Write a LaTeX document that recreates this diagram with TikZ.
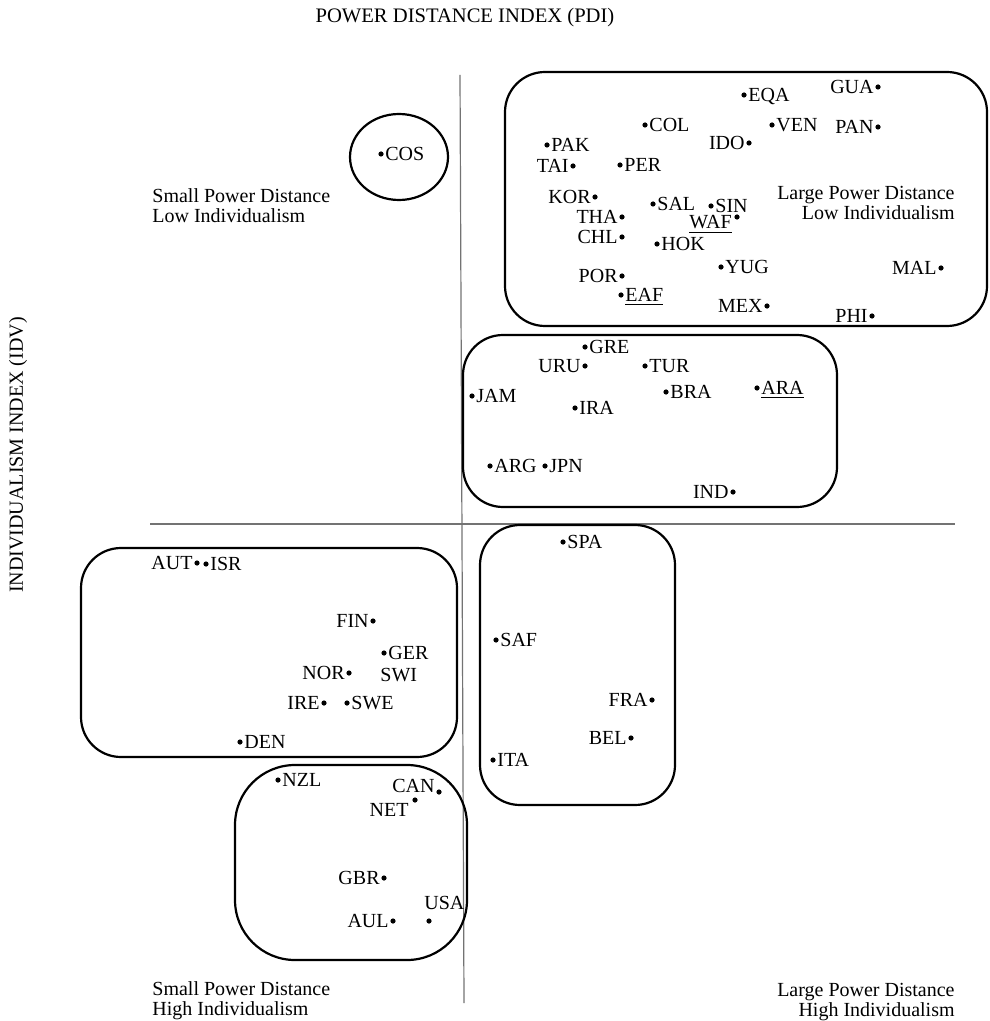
\documentclass[tikz,border=0pt]{standalone}
\usepackage{fontspec}
\setmainfont{Liberation Serif}
\begin{document}
\begin{tikzpicture}[x=0.5pt,y=-0.5pt,font=\fontsize{10}{10}\selectfont,
  lr/.style={anchor=base west,inner sep=0pt,xshift=2pt,yshift=-3.2pt},
  ll/.style={anchor=base east,inner sep=0pt,xshift=-2pt,yshift=-3.2pt},
  grp/.style={draw,line width=1.1pt,rounded corners=20pt},
  axis/.style={draw=black!55,line width=0.6pt}]
\useasboundingbox (0,0) rectangle (989,1021);
% axes
\draw[axis] (460,75) -- (464,1003);
\draw[axis] (150,524) -- (955,524);
\node (pdi) at (465,18) {\fontsize{10.3}{12}\selectfont POWER DISTANCE INDEX (PDI)};
\node[rotate=90] (idv) at (18,455) {\fontsize{10}{12}\selectfont INDIVIDUALISM INDEX (IDV)};
% quadrant captions
\node[anchor=north west,inner sep=0pt,align=left] (spli) at (152,188) {Small Power Distance\\Low Individualism};
\node[anchor=north east,inner sep=0pt,align=right] (lpli) at (955,186) {Large Power Distance\\Low Individualism};
\node[anchor=north west,inner sep=0pt,align=left] (sphi) at (152,981) {Small Power Distance\\High Individualism};
\node[anchor=north east,inner sep=0pt,align=right] (lphi) at (955,983) {Large Power Distance\\High Individualism};
% clusters
\draw[line width=1.1pt] (399,157) ellipse [x radius=24.5pt,y radius=21.5pt];
\draw[grp] (505,72) rectangle (987,326);
\draw[grp] (463,335) rectangle (837,507);
\draw[grp] (81,548) rectangle (457,757);
\draw[grp,rounded corners=30pt] (235,765) rectangle (467,960);
\draw[grp] (480,525) rectangle (675,805);
% small PDI, low IDV
\fill (381,154) circle (1.3pt) node[lr] (cos) {COS};
% large PDI, low IDV
\fill (744,95) circle (1.3pt) node[lr] (eqa) {EQA};
\fill (878,87) circle (1.3pt) node[ll] (gua) {GUA};
\fill (645,125) circle (1.3pt) node[lr] (col) {COL};
\fill (772,125) circle (1.3pt) node[lr] (ven) {VEN};
\fill (878,127) circle (1.3pt) node[ll] (pan) {PAN};
\fill (749,143) circle (1.3pt) node[ll] (ido) {IDO};
\fill (547,145) circle (1.3pt) node[lr] (pak) {PAK};
\fill (573,166) circle (1.3pt) node[ll] (tai) {TAI};
\fill (620,165) circle (1.3pt) node[lr] (per) {PER};
\fill (595,197) circle (1.3pt) node[ll] (kor) {KOR};
\fill (653,204) circle (1.3pt) node[lr] (sal) {SAL};
\fill (711,206) circle (1.3pt) node[lr] (sin) {SIN};
\fill (737,217) circle (1.3pt);
\node[anchor=base east,inner sep=0pt] (waf) at (732,229) {\underline{WAF}};
\fill (622,217) circle (1.3pt) node[ll] (tha) {THA};
\fill (622,237) circle (1.3pt) node[ll] (chl) {CHL};
\fill (657,244) circle (1.3pt) node[lr] (hok) {HOK};
\fill (721,267) circle (1.3pt) node[lr] (yug) {YUG};
\fill (941,268) circle (1.3pt) node[ll] (mal) {MAL};
\fill (622,276) circle (1.3pt) node[ll] (por) {POR};
\fill (621,295) circle (1.3pt) node[lr] (eaf) {\underline{EAF}};
\fill (767,306) circle (1.3pt) node[ll] (mex) {MEX};
\fill (872,316) circle (1.3pt) node[ll] (phi) {PHI};
% middle group
\fill (585,347) circle (1.3pt) node[lr] (gre) {GRE};
\fill (585,366) circle (1.3pt) node[ll] (uru) {URU};
\fill (645,366) circle (1.3pt) node[lr] (tur) {TUR};
\fill (472,396) circle (1.3pt) node[lr] (jam) {JAM};
\fill (575,408) circle (1.3pt) node[lr] (ira) {IRA};
\fill (666,392) circle (1.3pt) node[lr] (bra) {BRA};
\fill (757,388) circle (1.3pt) node[lr] (ara) {\underline{ARA}};
\fill (490,466) circle (1.3pt) node[lr] (arg) {ARG};
\fill (545,466) circle (1.3pt) node[lr] (jpn) {JPN};
\fill (733,492) circle (1.3pt) node[ll] (ind) {IND};
% small PDI, high IDV
\fill (197,563) circle (1.3pt) node[ll] (aut) {AUT};
\fill (206,564) circle (1.3pt) node[lr] (isr) {ISR};
\fill (373,621) circle (1.3pt) node[ll] (fin) {FIN};
\fill (384,653) circle (1.3pt) node[lr] (ger) {GER};
\node[anchor=base west,inner sep=0pt] (swi) at (380,681) {SWI};
\fill (349,673) circle (1.3pt) node[ll] (nor) {NOR};
\fill (324,703) circle (1.3pt) node[ll] (ire) {IRE};
\fill (347,703) circle (1.3pt) node[lr] (swe) {SWE};
\fill (240,742) circle (1.3pt) node[lr] (den) {DEN};
\fill (278,780) circle (1.3pt) node[lr] (nzl) {NZL};
\fill (439,792) circle (1.3pt);
\node[anchor=base east,inner sep=0pt] (can) at (435,792) {CAN};
\fill (415,800) circle (1.3pt);
\node[anchor=base east,inner sep=0pt] (net) at (409,816) {NET};
\fill (384,878) circle (1.3pt) node[ll] (gbr) {GBR};
\fill (429,921) circle (1.3pt);
\node[anchor=base west,inner sep=0pt] (usa) at (424,909) {USA};
\fill (393,921) circle (1.3pt) node[ll] (aul) {AUL};
% large PDI, high IDV
\fill (563,542) circle (1.3pt) node[lr] (spa) {SPA};
\fill (496,640) circle (1.3pt) node[lr] (saf) {SAF};
\fill (652,700) circle (1.3pt) node[ll] (fra) {FRA};
\fill (631,738) circle (1.3pt) node[ll] (bel) {BEL};
\fill (493,760) circle (1.3pt) node[lr] (ita) {ITA};
\end{tikzpicture}
\end{document}
